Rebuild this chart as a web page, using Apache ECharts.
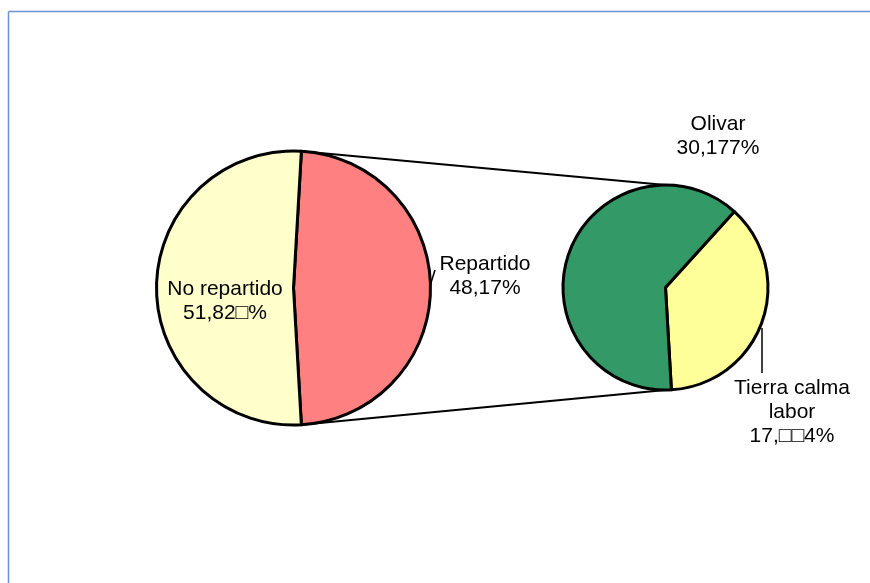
<!DOCTYPE html>
<html>
<head>
<meta charset="utf-8">
<script src="https://cdn.jsdelivr.net/npm/echarts@6/dist/echarts.min.js"></script>
<style>
html,body{margin:0;padding:0;background:#fff;}
#c{width:870px;height:583px;}
</style>
</head>
<body>
<div id="c"></div>
<script>
// ---- data ----
const mainCategories = ['Repartido', 'No repartido'];
const mainValues = [48.17, 51.83];
const mainLabels = ['48,17%', '51,82\u25A1%'];
const mainColors = ['#FF8080', '#FFFFCC'];

const subCategories = ['Tierra calma labor', 'Olivar'];
const subDisplay = ['Tierra calma\nlabor', 'Olivar'];
const subValues = [17.994, 30.177];
const subLabels = ['17,\u25A1\u25A14%', '30,177%'];
const subColors = ['#FFFF99', '#339966'];

// ---- layout ----
const L = {cx: 293.5, cy: 288, r: 137};
const R = {cx: 665.5, cy: 287.5, r: 102.5};
const FONT = {fontFamily: 'Liberation Sans, Arial, sans-serif', fontSize: 21, lineHeight: 24, color: '#000'};

const mainTotal = mainValues.reduce((a, b) => a + b, 0);
const half = mainValues[0] / mainTotal * 360 / 2; // repartido centered at 0deg
const subTotal = subValues.reduce((a, b) => a + b, 0);
const subStart = -half + subValues[0] / subTotal * 360;

const rad = d => d * Math.PI / 180;
const topPt = [L.cx + L.r * Math.cos(rad(half)), L.cy - L.r * Math.sin(rad(half))];
const botPt = [L.cx + L.r * Math.cos(rad(half)), L.cy + L.r * Math.sin(rad(half))];

const labelBase = Object.assign({show: true, position: 'outside', align: 'center', overflow: 'none', width: 300, alignTo: 'none'}, FONT);

const chart = echarts.init(document.getElementById('c'), null, {renderer: 'canvas'});
chart.setOption({
  animation: false,
  backgroundColor: '#fff',
  graphic: [
    {type: 'line', shape: {x1: 8.5, y1: 11.5, x2: 870, y2: 11.5}, style: {stroke: '#6B93D6', lineWidth: 1.5}, silent: true},
    {type: 'line', shape: {x1: 8.5, y1: 11.5, x2: 8.5, y2: 583}, style: {stroke: '#6B93D6', lineWidth: 1.5}, silent: true},
    {type: 'line', shape: {x1: topPt[0], y1: topPt[1], x2: R.cx, y2: R.cy - R.r}, style: {stroke: '#000', lineWidth: 2.2}, silent: true, z: 10},
    {type: 'line', shape: {x1: botPt[0], y1: botPt[1], x2: R.cx, y2: R.cy + R.r}, style: {stroke: '#000', lineWidth: 2.2}, silent: true, z: 10}
  ],
  series: [
    {
      type: 'pie',
      center: [L.cx, L.cy],
      radius: L.r,
      startAngle: half,
      clockwise: true,
      silent: true,
      emphasis: {disabled: true},
      itemStyle: {borderColor: '#000', borderWidth: 3},
      label: labelBase,
      labelLine: {show: true, lineStyle: {color: '#000', width: 1.5}},
      data: mainCategories.map((n, i) => ({
        name: n,
        value: mainValues[i],
        itemStyle: {color: mainColors[i]},
        label: {formatter: n + '\n' + mainLabels[i]},
        labelLine: {show: i === 0}
      })),
      labelLayout: function (p) {
        if (p.dataIndex === 0) {
          return {x: 485, y: 276, align: 'center', verticalAlign: 'middle',
            labelLinePoints: [[430, 286], [432.5, 278], [435, 270]]};
        }
        return {x: 225, y: 301, align: 'center', verticalAlign: 'middle'};
      }
    },
    {
      type: 'pie',
      center: [R.cx, R.cy],
      radius: R.r,
      startAngle: subStart,
      clockwise: true,
      silent: true,
      emphasis: {disabled: true},
      itemStyle: {borderColor: '#000', borderWidth: 3},
      label: labelBase,
      labelLine: {show: true, lineStyle: {color: '#000', width: 1.5}},
      data: subCategories.map((n, i) => ({
        name: n,
        value: subValues[i],
        itemStyle: {color: subColors[i]},
        label: {formatter: subDisplay[i] + '\n' + subLabels[i]},
        labelLine: {show: i === 0}
      })),
      labelLayout: function (p) {
        if (p.dataIndex === 0) {
          return {x: 792, y: 412, align: 'center', verticalAlign: 'middle',
            labelLinePoints: [[762, 328], [762, 350], [762, 373]]};
        }
        return {x: 718, y: 136, align: 'center', verticalAlign: 'middle'};
      }
    }
  ]
});
</script>
</body>
</html>
